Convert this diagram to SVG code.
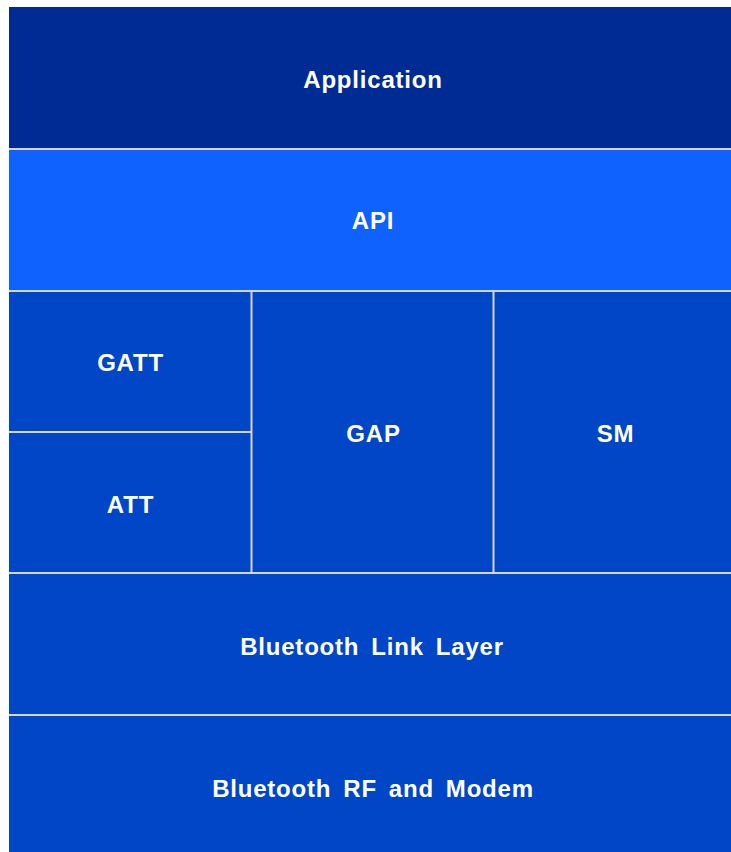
<svg xmlns="http://www.w3.org/2000/svg" width="731" height="852" viewBox="0 0 731 852">
<style>
.lbl{font-family:"Liberation Sans",Arial,sans-serif;font-weight:bold;font-size:24px;fill:#ffffff;text-anchor:middle;letter-spacing:0.8px;word-spacing:4.5px}
.blk{fill:#0046C6}
.sep{stroke:#D6D6D6;stroke-width:2;fill:none}
</style>
<rect x="0" y="0" width="731" height="852" fill="#ffffff"/>
<g id="application"><rect x="9" y="7" width="722" height="142" fill="#002B94"/><text class="lbl" x="373" y="88">Application</text></g>
<g id="api"><rect x="9" y="149" width="722" height="142" fill="#0F62FE"/><text class="lbl" x="373" y="229">API</text></g>
<g id="gatt"><rect class="blk" x="9" y="291" width="243" height="141"/><text class="lbl" x="130.5" y="371">GATT</text></g>
<g id="att"><rect class="blk" x="9" y="432" width="243" height="141"/><text class="lbl" x="130.5" y="513">ATT</text></g>
<g id="gap"><rect class="blk" x="252" y="291" width="242" height="282"/><text class="lbl" x="373.5" y="442">GAP</text></g>
<g id="sm"><rect class="blk" x="494" y="291" width="237" height="282"/><text class="lbl" x="615.5" y="442">SM</text></g>
<g id="linklayer"><rect class="blk" x="9" y="573" width="722" height="142"/><text class="lbl" x="372" y="655">Bluetooth Link Layer</text></g>
<g id="rfmodem"><rect class="blk" x="9" y="715" width="722" height="137"/><text class="lbl" x="373" y="797">Bluetooth RF and Modem</text></g>
<g id="connectors">
<line class="sep" x1="9" y1="149" x2="731" y2="149"/>
<line class="sep" x1="9" y1="291" x2="731" y2="291"/>
<line class="sep" x1="9" y1="432" x2="251.5" y2="432"/>
<line class="sep" x1="9" y1="573" x2="731" y2="573"/>
<line class="sep" x1="9" y1="715" x2="731" y2="715"/>
<line class="sep" x1="251.5" y1="291" x2="251.5" y2="573"/>
<line class="sep" x1="493.5" y1="291" x2="493.5" y2="573"/>
</g>
</svg>
